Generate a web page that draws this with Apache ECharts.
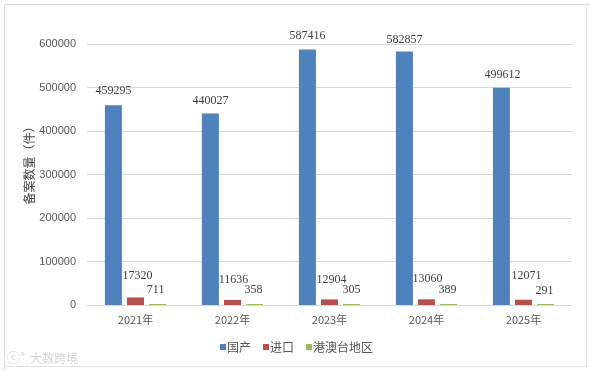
<!DOCTYPE html>
<html><head><meta charset="utf-8">
<style>html,body{margin:0;padding:0;background:#fff}#c{width:590px;height:371px}</style>
<script src="https://cdn.jsdelivr.net/npm/echarts@6/dist/echarts.min.js"></script>
</head><body><div id="c"></div>
<script>
const categories = ['2021年','2022年','2023年','2024年','2025年'];
const domestic = [459295,440027,587416,582857,499612];
const imported = [17320,11636,12904,13060,12071];
const hkMacauTaiwan = [711,358,305,389,291];
const yTicks = {min:0,max:600000,interval:100000};
const cjk = '"Noto Sans CJK SC","Noto Sans",sans-serif';
const labelFont = '"Liberation Serif",serif';
const blueOffsets = [[0,-3],[0,-2],[0,-3],[0,-1],[1,-2]];
const redOffsets = [[2,-11],[1,-9],[2,-9],[1,-9],[3,-13]];
const greenOffsets = [[-2,-3],[-1,-3],[0,-3],[-1,-3],[-1,-2]];
function series(name,data,color,offs,minH){
  return {name,type:'bar',data:data.map((v,i)=>({value:v,label:{offset:offs[i]}})),barWidth:17,barGap:'30%',
    barMinHeight:minH,
    itemStyle:{color},
    label:{show:true,position:'top',color:'#404040',fontFamily:labelFont,fontSize:12}};
}
const chart = echarts.init(document.getElementById('c'),null,{renderer:'canvas'});
chart.setOption({
  animation:false,
  backgroundColor:'#fff',
  grid:{left:87,right:18,top:44,bottom:66},
  graphic:[
    {type:'polyline',silent:true,shape:{points:[[4.5,371],[4.5,4.5],[590,4.5]]},style:{fill:'none',stroke:'#dcdcdc',lineWidth:1}},
    {type:'polyline',silent:true,shape:{points:[[4.5,366.5],[586.5,366.5],[586.5,4.5]]},style:{fill:'none',stroke:'#e2e2e2',lineWidth:1}},
    {type:'text',silent:true,left:7,top:351,style:{text:'ⓒ°',fill:'#d4d4d4',font:'13px '+cjk}},
    {type:'text',silent:true,left:30,top:352,style:{text:'大数跨境',fill:'#d4d4d4',font:'12px '+cjk}}
  ],
  legend:{left:220,top:341,padding:0,itemWidth:6,itemHeight:6,itemGap:12,icon:'rect',
    textStyle:{color:'#555',fontFamily:cjk,fontSize:12,padding:[0,0,0,-4]},
    data:['国产','进口','港澳台地区']},
  xAxis:{type:'category',data:categories,
    axisLine:{lineStyle:{color:'#d9d9d9'}},axisTick:{show:false},
    axisLabel:{color:'#555',fontFamily:cjk,fontSize:11,margin:9}},
  yAxis:{type:'value',min:yTicks.min,max:yTicks.max,interval:yTicks.interval,
    name:'备案数量（件）',nameLocation:'middle',nameGap:52,nameRotate:90,nameMoveOverlap:false,
    nameTextStyle:{color:'#444',fontFamily:cjk,fontSize:12,padding:[0,0,0,24]},
    axisLine:{show:false},axisTick:{show:false},
    splitLine:{lineStyle:{color:'#d9d9d9'}},
    axisLabel:{color:'#595959',fontFamily:'"Liberation Sans",sans-serif',fontSize:11,margin:11,
      formatter:v=>String(v)}},
  series:[
    series('国产',domestic,'#4f81bd',blueOffsets,0),
    series('进口',imported,'#b5504e',redOffsets,0),
    series('港澳台地区',hkMacauTaiwan,'#9bbb59',greenOffsets,1)
  ]
});
</script></body></html>
